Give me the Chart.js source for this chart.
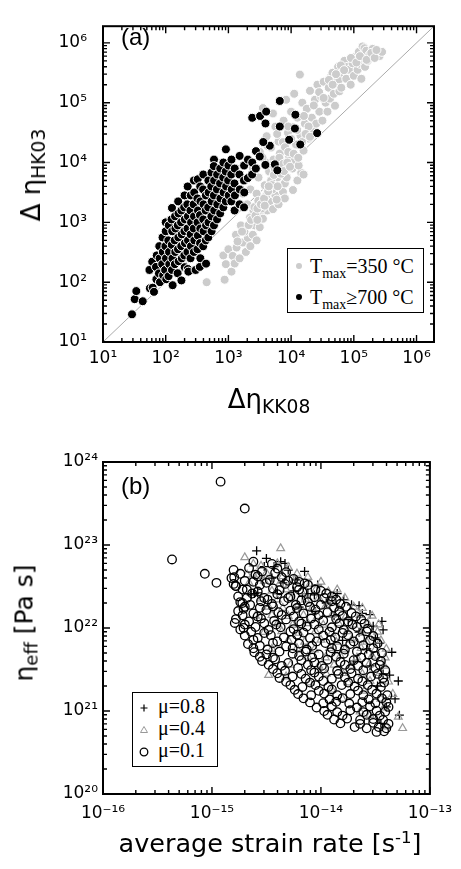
<!DOCTYPE html>
<html>
<head>
<meta charset="utf-8">
<script src="https://cdn.jsdelivr.net/npm/chart.js@4.4.1/dist/chart.umd.min.js"></script>
<style>
  body { margin: 0; background: #fff; }
  #wrap { position: relative; width: 461px; height: 869px; overflow: hidden; }
  canvas { position: absolute; left: 0; }
  .t { position: absolute; white-space: nowrap; line-height: 1; color: #000; font-family: 'DejaVu Sans', sans-serif; }
  .t sub { font-size: 0.72em; vertical-align: -0.27em; line-height: 0; }
  .t sup { font-size: 0.65em; vertical-align: 0.55em; line-height: 0; }
  .rot { transform: translate(-50%, -50%) rotate(-90deg); }
  .leg { position: absolute; box-sizing: border-box; border: 1px solid #000; background: #fff; }
  .lt { position: absolute; white-space: nowrap; line-height: 1; font-family: 'Liberation Serif', serif; font-size: 20px; }
  .lt sub { font-size: 14px; vertical-align: -5px; line-height: 0; }
</style>
</head>
<body>
<div id="wrap">
  <canvas id="chartA" width="461" height="435" style="top:0"></canvas>
  <canvas id="chartB" width="461" height="434" style="top:435px"></canvas>

  <div class="t" style="left:121px;top:25px;font-family:'Liberation Sans';font-size:24px">(a)</div>
  <div class="t" style="left:269px;top:386px;font-size:26px;transform:translateX(-50%)">Δη<sub>KK08</sub></div>
  <div class="t rot" style="left:31px;top:175px;font-size:26px">Δ η<sub>HK03</sub></div>

  <div class="leg" style="left:287px;top:248px;width:137px;height:65px"></div>
  <svg style="position:absolute;left:287px;top:248px" width="137" height="65">
    <circle cx="12" cy="18" r="3" fill="#cccccc"/>
    <circle cx="12" cy="49" r="3" fill="#000"/>
  </svg>
  <div class="lt" style="left:310px;top:256px">T<sub>max</sub>=350 °C</div>
  <div class="lt" style="left:310px;top:287px">T<sub>max</sub>≥700 °C</div>

  <div class="t" style="left:121px;top:474px;font-family:'Liberation Sans';font-size:24px">(b)</div>
  <div class="t" style="left:270px;top:831px;font-size:25.5px;transform:translateX(-50%)">average strain rate [s<sup>-1</sup>]</div>
  <div class="t rot" style="left:24px;top:623px;font-size:25px">η<sub>eff</sub> [Pa s]</div>

  <div class="leg" style="left:132px;top:692px;width:86px;height:75px"></div>
  <svg style="position:absolute;left:132px;top:692px" width="86" height="75">
    <path d="M8.5 16H15.5M12 12.5V19.5" stroke="#000" stroke-width="1.2" fill="none"/>
    <path d="M12 34.5L15.5 40.5L8.5 40.5Z" stroke="#999" stroke-width="1" fill="none"/>
    <circle cx="12" cy="60" r="3.8" stroke="#000" stroke-width="1.3" fill="none"/>
  </svg>
  <div class="lt" style="left:158px;top:696px">μ=0.8</div>
  <div class="lt" style="left:158px;top:718px">μ=0.4</div>
  <div class="lt" style="left:158px;top:740px">μ=0.1</div>
</div>

<script>
// ---- panel (a) data ----
const rangeA = [10, 1.9e6];
const oneToOne = [10, 1.9e6];
const tickValsA = [1e1, 1e2, 1e3, 1e4, 1e5, 1e6];
const tickLabelsA = ['10¹', '10²', '10³', '10⁴', '10⁵', '10⁶'];

// T_max >= 700 °C  [Δη_KK08, Δη_HK03]
const hotPts = [
  [29,29],[32,52],[34,71],[43,48],[55,160],[56,79],[62,81],[61,220],[65,69],
  [71,112],[72,280],[70,180],[79,400],[78,140],[80,250],[81,100],
  [89,560],[88,200],[90,320],[91,130],[100,710],[99,400],[101,250],[98,160],[102,112],[100,1000],
  [112,890],[110,500],[113,320],[114,200],[111,126],
  [126,1740],[124,1120],[127,710],[125,420],[128,250],[126,160],[129,89],
  [141,1260],[143,790],[139,500],[142,320],[140,200],
  [158,2240],[160,1410],[156,890],[159,560],[157,355],[161,224],[155,141],
  [178,1580],[176,1000],[180,630],[177,400],[181,250],[178,107],
  [200,2820],[197,1780],[202,1120],[199,710],[203,450],[198,280],[201,178],
  [224,3980],[221,2000],[226,1260],[223,790],[227,500],[222,320],[225,166],[230,150],
  [251,2820],[248,1580],[254,1000],[250,630],[253,400],[249,251],
  [282,5010],[285,3160],[279,2000],[283,1260],[280,790],[286,500],[281,320],[300,160],
  [324,5250],[320,2510],[327,1580],[322,1000],[326,600],[321,355],[350,180],
  [355,3980],[358,2240],[352,1320],[356,790],[353,450],[357,251],
  [398,6310],[395,3550],[401,2000],[397,1120],[402,710],[396,398],
  [437,2820],[434,1580],[440,890],[436,500],[440,204],
  [479,5010],[483,3160],[476,1780],[481,1000],[478,560],
  [537,6760],[533,3980],[541,2240],[535,1260],[539,710],
  [589,11200],[585,8710],[592,5010],[587,2820],[594,1580],[588,890],
  [661,6310],[656,3550],[665,2000],[659,1120],
  [741,7940],[736,4470],[746,2510],[739,1410],
  [832,10000],[826,5620],[838,3160],[829,1780],
  [912,16600],[906,7080],[918,3980],[909,2240],
  [1000,8910],[990,5010],[1010,2820],
  [1120,11200],[1110,6310],[1130,3550],[1115,2240],
  [1260,7940],[1250,4470],[1270,2820],[1255,1580],
  [1510,12900],[1500,6310],[1520,3550],[1505,2000],
  [1780,8910],[1770,5010],[1790,3160],[1775,1780],
  [2040,5500],[2050,11200],[2400,10000],[2390,6310],[2750,15500],[2740,7940],
  [3160,12600],[3550,21900],[3890,9120],[4570,19100],[5500,9330],[6030,7410],
  [2400,56000],[3200,60000],[4000,71000],[3900,45000],[6600,107000],[6600,40000],
  [11700,63000],[11500,37000],[9300,24000],[26000,31000],[14000,20000],[3600,22000]
];

// T_max = 350 °C
const coolPts = [
  [450,100],[870,110],[830,280],[910,200],[1000,355],[1120,150],[1170,275],[1260,205],[1320,620],[1350,380],
  [1510,250],[1580,890],[1700,460],[1900,320],[2040,550],[2240,400],[2450,620],[2630,890],[2820,500],[3160,830],
  [3310,1260],[3550,1150],[4170,1580],[4570,2240],[5130,1660],[5620,2820],[6310,2000],[7410,3240],[7940,2510],
  [10700,3470],[12600,5010],[14500,6760],[15800,6300],
  [1700,3020],[2450,1450],[2000,2000],[2240,3550],[2450,8130],[2510,1580],[2820,3020],[3020,5620],[3160,15100],
  [3310,2240],[3550,81300],[3800,4170],[3980,10000],[4070,27500],[4470,7080],[4790,17800],[5010,3550],[5130,66100],
  [5250,11200],[5620,39800],[5890,2400],[6030,5620],[6310,22400],[6610,14100],[7080,8910],[7410,21900],[7590,50100],
  [7940,4470],[8320,112000],[8510,5620],[8910,31600],[9330,12600],[10000,70800],[10500,7940],[10700,38900],
  [11200,10500],[11200,141000],[12000,20000],[12600,56200],[13200,8910],[13800,295000],[14100,28200],[15100,100000],
  [15800,15800],[16600,44700],[17800,79400],[19100,25100],[20000,158000],[21400,56200],[22400,35500],[24000,112000],
  [25100,44700],[26300,200000],[28200,70800],[30200,126000],
  [31600,50100],[33100,224000],[35500,100000],[38000,70800],[39800,178000],[41700,117000],[43700,282000],[45700,316000],
  [47900,141000],[50100,89100],[52500,224000],[56200,398000],[58900,155000],[58900,245000],[63100,178000],[66100,316000],
  [70800,501000],[75900,251000],[79400,398000],[85100,355000],[89100,200000],[95500,457000],[100000,282000],
  [105000,562000],[110000,603000],[115000,355000],[120000,708000],[126000,447000],[132000,251000],[138000,871000],
  [141000,562000],[148000,813000],[151000,398000],[158000,741000],[166000,501000],[178000,631000],[200000,794000],
  [257000,603000],[282000,708000],
  [3500,12000],[4200,19000],[6000,30000],[8000,18000],[9000,40000],[5000,9000],
  [2200,1200],[2600,1800],[3000,2300],[3400,1700],[4000,2800],[4800,5000],[5500,7500],[6500,12000],[7500,9500],
  [9000,15000],[10000,25000],[12500,35000],[16000,60000],[19000,40000],[23000,90000],[28000,150000],[33000,120000],
  [40000,240000],[46000,200000],[52000,300000],[62000,420000],[70000,350000],[90000,560000],[110000,470000],[125000,600000],
  [1800,700],[2100,900],[2300,1100],[2700,1300],[2900,1700],[3300,2000],[3700,2500],[4300,3300],[4900,4200],
  [5300,6200],[6100,4000],[6900,6500],[7700,7200],[8700,10000],[9600,8500],[11000,14000],[13000,12000],
  [15000,22000],[17000,30000],[20000,27000],[1400,480],[1650,700],[2900,1100],[3800,1900],[4400,4000],
  [160000,520000],[190000,680000],[215000,560000],[230000,760000]
];

// ---- panel (b) data ----
const rangeBx = [1e-16, 1e-13];
const rangeBy = [1e20, 1e24];
const tickValsBx = [1e-16, 1e-15, 1e-14, 1e-13];
const tickLabelsBx = ['10⁻¹⁶', '10⁻¹⁵', '10⁻¹⁴', '10⁻¹³'];
const tickValsBy = [1e20, 1e21, 1e22, 1e23, 1e24];
const tickLabelsBy = ['10²⁰', '10²¹', '10²²', '10²³', '10²⁴'];

// μ=0.8  [strain rate, η_eff]
const mu08 = [
  [2.57e-15,8.5e22],[3.16e-15,6.9e22],[3.02e-15,5.5e22],[3.72e-15,5.5e22],[4.68e-15,6.0e22],[5.01e-15,5.0e22],
  [7.08e-15,4.8e22],[2.45e-15,2.6e22],[5.89e-15,3.8e22],[9.33e-15,3.3e22],[1.41e-14,2.6e22],[1.62e-14,2.2e22],
  [1.91e-14,1.9e22],[2.24e-14,1.86e22],[2.40e-14,1.5e22],[2.82e-14,1.45e22],[3.63e-14,1.2e22],[3.02e-14,1.05e22],
  [3.72e-14,9.5e21],[3.16e-14,7.6e21],[3.47e-14,6.6e21],[4.47e-14,5.1e21],[4.27e-14,2.7e21],[5.13e-14,2.3e21],
  [4.79e-14,1.4e21],[5.25e-14,8.9e20],[3.72e-14,2.8e21],[7.59e-15,2.6e22],[8.71e-15,2.5e22],[6.76e-15,2.4e22],
  [3.98e-15,2.6e22],[2.29e-15,2.5e22],[2.63e-15,2.65e22],[4.27e-15,6.3e22],
  [4.47e-15,3.5e22],[3.55e-15,4.0e22],[5.62e-15,2.8e22],[1.12e-14,2.0e22],[1.32e-14,1.4e22],[1.78e-14,1.26e22],
  [2.24e-14,8.9e21],[2.63e-14,5.6e21],[2.82e-14,3.5e21],[3.31e-14,2.0e21],[3.98e-14,1.12e21],[8.91e-15,1.58e22],
  [6.31e-15,1.78e22],[1.58e-14,7.1e21],[2.0e-14,4.0e21],[3.55e-14,7.1e20]
];

// μ=0.4
const mu04 = [
  [4.27e-15,9.1e22],[2.0e-15,7.1e22],[2.4e-15,5.9e22],[2.1e-15,4.4e22],[2.6e-15,4.2e22],
  [2.82e-15,5.6e22],[3.98e-15,6.0e22],[5.01e-15,5.4e22],
  [2.4e-15,4.4e22],[3.16e-15,4.6e22],[4.47e-15,4.2e22],[6.03e-15,4.5e22],[7.59e-15,4.1e22],
  [2.19e-15,3.5e22],[3.02e-15,3.7e22],[4.17e-15,3.4e22],[5.62e-15,3.6e22],[7.94e-15,3.4e22],[1.0e-14,3.6e22],
  [3.55e-15,2.8e22],[4.79e-15,2.9e22],[6.61e-15,2.75e22],[8.91e-15,2.85e22],[1.17e-14,2.75e22],[1.41e-14,2.9e22],
  [2.82e-15,2.25e22],[3.98e-15,2.2e22],[5.37e-15,2.3e22],[7.24e-15,2.2e22],[9.55e-15,2.3e22],[1.26e-14,2.2e22],[1.66e-14,2.3e22],
  [3.31e-15,1.8e22],[4.47e-15,1.74e22],[6.03e-15,1.8e22],[8.32e-15,1.75e22],[1.1e-14,1.82e22],[1.45e-14,1.74e22],[2.0e-14,1.8e22],[2.4e-14,1.74e22],
  [2.51e-15,1.4e22],[3.55e-15,1.43e22],[5.01e-15,1.39e22],[6.92e-15,1.43e22],[9.33e-15,1.39e22],[1.26e-14,1.43e22],[1.7e-14,1.39e22],[2.29e-14,1.43e22],[2.95e-14,1.4e22],
  [3.98e-15,1.12e22],[5.5e-15,1.09e22],[7.59e-15,1.14e22],[1.05e-14,1.09e22],[1.45e-14,1.14e22],[2.0e-14,1.09e22],[2.69e-14,1.14e22],[3.39e-14,1.1e22],
  [3.02e-15,8.9e21],[4.37e-15,9.1e21],[6.31e-15,8.7e21],[8.91e-15,9.1e21],[1.26e-14,8.7e21],[1.74e-14,9.1e21],[2.4e-14,8.7e21],[3.31e-14,9.0e21],
  [5.01e-15,7.1e21],[7.08e-15,6.8e21],[1.0e-14,7.2e21],[1.38e-14,6.8e21],[1.91e-14,7.2e21],[2.63e-14,6.8e21],[3.55e-14,7.1e21],
  [3.55e-15,5.6e21],[6.03e-15,5.7e21],[8.71e-15,5.5e21],[1.2e-14,5.7e21],[1.66e-14,5.5e21],[2.34e-14,5.7e21],[3.16e-14,5.5e21],[3.98e-14,5.6e21],
  [7.59e-15,4.5e21],[1.1e-14,4.4e21],[1.51e-14,4.6e21],[2.14e-14,4.4e21],[2.95e-14,4.6e21],[3.89e-14,4.4e21],
  [5.25e-15,3.6e21],[9.55e-15,3.5e21],[1.32e-14,3.6e21],[1.91e-14,3.5e21],[2.75e-14,3.6e21],[3.8e-14,3.5e21],
  [3.31e-15,2.7e21],[4.79e-15,2.6e21],[1.12e-14,2.8e21],[1.58e-14,2.85e21],[2.4e-14,2.8e21],[3.47e-14,2.85e21],
  [7.94e-15,2.2e21],[1.78e-14,2.2e21],[2.82e-14,2.3e21],[4.17e-14,2.25e21],
  [1.26e-14,1.8e21],[2.51e-14,1.75e21],[4.57e-14,1.6e21],
  [1.58e-14,1.4e21],[3.55e-14,1.4e21],
  [2.29e-14,9.8e20],[3.8e-14,1.1e21],
  [2.82e-14,8.9e20],[5.13e-14,8.5e20],
  [3.98e-14,6.5e20],[5.62e-14,6.2e20]
];

// μ=0.1
const mu01 = [
  [4.3e-16,6.7e22],[8.6e-16,4.5e22],[1.1e-15,3.5e22],[1.2e-15,5.8e23],[2.0e-15,2.75e23],[1.6e-15,4.1e22],
  [1.65e-15,3.2e22],[1.62e-15,1.15e22],[1.95e-15,1.0e22],[1.9e-15,2.0e22],[1.95e-15,1.7e22],
  [2.4e-15,6.3e22],[3.55e-15,5.9e22],
  [1.58e-15,5.0e22],[2.19e-15,5.3e22],[2.88e-15,4.8e22],[3.98e-15,5.2e22],[4.79e-15,4.7e22],
  [1.51e-15,4.0e22],[2.0e-15,3.7e22],[2.63e-15,4.2e22],[3.39e-15,3.8e22],[4.37e-15,4.1e22],[5.62e-15,3.9e22],[6.31e-15,3.6e22],
  [1.66e-15,3.2e22],[2.09e-15,2.9e22],[2.75e-15,3.3e22],[3.63e-15,3.0e22],[4.68e-15,3.4e22],[6.03e-15,3.1e22],[7.59e-15,3.3e22],[8.91e-15,2.9e22],
  [1.74e-15,2.4e22],[2.34e-15,2.6e22],[3.02e-15,2.3e22],[3.98e-15,2.55e22],[5.25e-15,2.4e22],[6.76e-15,2.7e22],[8.71e-15,2.35e22],[1.12e-14,2.6e22],[1.26e-14,2.4e22],
  [1.82e-15,2.05e22],[2.24e-15,1.9e22],[2.82e-15,2.1e22],[3.55e-15,1.95e22],[4.57e-15,2.1e22],[5.89e-15,1.9e22],[7.59e-15,2.05e22],[1.0e-14,1.9e22],[1.26e-14,2.1e22],[1.51e-14,1.95e22],
  [1.74e-15,1.6e22],[2.4e-15,1.5e22],[3.16e-15,1.65e22],[4.07e-15,1.55e22],[5.25e-15,1.62e22],[6.92e-15,1.5e22],[8.91e-15,1.66e22],[1.15e-14,1.55e22],[1.48e-14,1.6e22],[1.91e-14,1.52e22],
  [1.66e-15,1.28e22],[2.19e-15,1.2e22],[2.82e-15,1.3e22],[3.72e-15,1.22e22],[4.79e-15,1.27e22],[6.31e-15,1.2e22],[8.13e-15,1.3e22],[1.05e-14,1.23e22],[1.38e-14,1.29e22],[1.78e-14,1.2e22],[2.34e-14,1.27e22],
  [1.82e-15,9.6e21],[2.51e-15,1.03e22],[3.31e-15,9.5e21],[4.27e-15,1.02e22],[5.62e-15,9.7e21],[7.41e-15,1.04e22],[9.55e-15,9.6e21],[1.26e-14,1.02e22],[1.62e-14,9.5e21],[2.14e-14,1.03e22],[2.69e-14,9.8e21],
  [2.0e-15,8.1e21],[2.63e-15,7.6e21],[3.47e-15,8.2e21],[4.57e-15,7.7e21],[6.03e-15,8.3e21],[7.94e-15,7.6e21],[1.05e-14,8.1e21],[1.35e-14,7.7e21],[1.78e-14,8.2e21],[2.29e-14,7.6e21],[3.02e-14,8.0e21],
  [2.14e-15,6.4e21],[2.75e-15,6.1e21],[3.63e-15,6.6e21],[4.79e-15,6.0e21],[6.31e-15,6.5e21],[8.32e-15,6.1e21],[1.1e-14,6.6e21],[1.41e-14,6.0e21],[1.86e-14,6.4e21],[2.45e-14,6.2e21],[3.31e-14,6.5e21],
  [2.45e-15,5.1e21],[3.16e-15,4.8e21],[4.17e-15,5.2e21],[5.5e-15,4.9e21],[7.24e-15,5.2e21],[9.55e-15,4.8e21],[1.23e-14,5.1e21],[1.62e-14,4.9e21],[2.14e-14,5.2e21],[2.75e-14,4.8e21],[3.63e-14,5.0e21],
  [2.88e-15,4.0e21],[3.8e-15,4.2e21],[5.01e-15,3.8e21],[6.61e-15,4.1e21],[8.71e-15,3.85e21],[1.15e-14,4.15e21],[1.51e-14,3.9e21],[2.0e-14,4.1e21],[2.63e-14,3.8e21],[3.55e-14,4.0e21],
  [3.63e-15,3.2e21],[4.68e-15,3.05e21],[6.17e-15,3.3e21],[8.13e-15,3.1e21],[1.07e-14,3.25e21],[1.41e-14,3.05e21],[1.86e-14,3.2e21],[2.45e-14,3.1e21],[3.16e-14,3.3e21],[3.89e-14,3.1e21],
  [4.17e-15,2.5e21],[5.5e-15,2.6e21],[7.24e-15,2.45e21],[9.55e-15,2.6e21],[1.26e-14,2.45e21],[1.66e-14,2.55e21],[2.19e-14,2.45e21],[2.88e-14,2.6e21],[3.72e-14,2.5e21],
  [5.25e-15,2.05e21],[6.76e-15,1.95e21],[8.91e-15,2.05e21],[1.17e-14,1.95e21],[1.55e-14,2.05e21],[2.04e-14,1.97e21],[2.69e-14,2.05e21],[3.55e-14,1.95e21],
  [6.17e-15,1.6e21],[8.13e-15,1.55e21],[1.07e-14,1.62e21],[1.41e-14,1.55e21],[1.86e-14,1.6e21],[2.45e-14,1.55e21],[3.24e-14,1.62e21],[4.07e-14,1.55e21],
  [7.94e-15,1.27e21],[1.05e-14,1.24e21],[1.38e-14,1.29e21],[1.82e-14,1.23e21],[2.4e-14,1.28e21],[3.16e-14,1.24e21],[3.98e-14,1.28e21],
  [1.07e-14,1.0e21],[1.41e-14,9.7e20],[1.86e-14,1.02e21],[2.45e-14,9.7e20],[3.24e-14,1.01e21],[3.89e-14,9.8e20],
  [1.32e-14,7.9e20],[1.74e-14,8.1e20],[2.29e-14,7.8e20],[3.02e-14,8.0e20],[3.72e-14,7.8e20],
  [2.04e-14,6.4e20],[2.63e-14,6.2e20],[3.39e-14,6.4e20],[3.98e-14,6.2e20],
  [3.24e-14,5.6e20],[3.8e-14,5.7e20],
  // in-between points of the dense cloud
  [1.82e-15,4.5e22],[2.51e-15,4.4e22],[3.8e-15,4.6e22],
  [1.58e-15,3.4e22],[2.4e-15,3.6e22],[3.16e-15,3.5e22],[5.01e-15,3.7e22],[7.08e-15,3.45e22],
  [1.91e-15,2.9e22],[2.63e-15,2.75e22],[4.17e-15,2.85e22],[6.31e-15,2.9e22],[1.0e-14,2.8e22],
  [2.09e-15,2.3e22],[3.24e-15,2.2e22],[5.01e-15,2.3e22],[6.61e-15,2.15e22],[1.07e-14,2.3e22],[1.38e-14,2.2e22],
  [2.0e-15,1.8e22],[2.75e-15,1.75e22],[3.63e-15,1.82e22],[6.03e-15,1.74e22],[7.94e-15,1.8e22],[1.32e-14,1.76e22],[1.7e-14,1.8e22],
  [1.91e-15,1.42e22],[2.63e-15,1.38e22],[4.37e-15,1.43e22],[5.62e-15,1.38e22],[9.55e-15,1.43e22],[1.58e-14,1.4e22],[2.09e-14,1.38e22],
  [2.0e-15,1.1e22],[3.02e-15,1.14e22],[3.89e-15,1.1e22],[6.61e-15,1.13e22],[8.71e-15,1.1e22],[1.48e-14,1.14e22],[1.95e-14,1.1e22],[2.51e-14,1.13e22],
  [2.29e-15,9.0e21],[3.02e-15,8.7e21],[5.25e-15,9.1e21],[6.92e-15,8.8e21],[1.2e-14,9.0e21],[1.58e-14,8.7e21],[2.63e-14,9.1e21],
  [2.4e-15,7.2e21],[3.98e-15,6.9e21],[5.37e-15,7.2e21],[9.12e-15,6.9e21],[1.23e-14,7.2e21],[2.0e-14,6.9e21],[2.82e-14,7.1e21],
  [2.4e-15,5.7e21],[3.24e-15,5.5e21],[5.5e-15,5.7e21],[7.41e-15,5.5e21],[1.26e-14,5.7e21],[1.66e-14,5.5e21],[3.02e-14,5.7e21],
  [2.75e-15,4.5e21],[3.63e-15,4.4e21],[6.31e-15,4.6e21],[8.32e-15,4.4e21],[1.38e-14,4.5e21],[2.34e-14,4.4e21],[3.16e-14,4.6e21],
  [3.31e-15,3.6e21],[4.37e-15,3.5e21],[7.59e-15,3.6e21],[1.02e-14,3.5e21],[1.66e-14,3.6e21],[2.19e-14,3.5e21],[3.47e-14,3.6e21],
  [3.98e-15,2.85e21],[6.61e-15,2.8e21],[8.71e-15,2.9e21],[1.45e-14,2.8e21],[1.91e-14,2.85e21],[3.31e-14,2.8e21],
  [4.79e-15,2.25e21],[7.94e-15,2.2e21],[1.05e-14,2.3e21],[1.78e-14,2.2e21],[2.4e-14,2.28e21],[3.8e-14,2.2e21],
  [5.75e-15,1.8e21],[9.55e-15,1.75e21],[1.26e-14,1.82e21],[2.19e-14,1.76e21],[2.95e-14,1.8e21],
  [6.92e-15,1.42e21],[1.2e-14,1.38e21],[1.58e-14,1.43e21],[2.75e-14,1.38e21],[3.63e-14,1.42e21],
  [9.12e-15,1.1e21],[1.26e-14,1.14e21],[2.14e-14,1.1e21],[2.82e-14,1.14e21],[4.17e-14,1.12e21],
  [1.15e-14,9.0e20],[1.58e-14,8.8e20],[2.63e-14,9.0e20],[3.47e-14,8.8e20],
  [1.51e-14,7.1e20],[2.29e-14,7.0e20],[3.02e-14,7.2e20],[4.17e-14,7.0e20]
];

const toXY = pts => pts.map(([x, y]) => ({ x, y }));

// log axis with labels only at decades
function logAxis(range, vals, labels, fit, pad) {
  return {
    type: 'logarithmic',
    min: range[0],
    max: range[1],
    grid: { display: false, drawTicks: false },
    border: { display: false },
    afterBuildTicks: s => { s.ticks = vals.map(v => ({ value: v })); },
    afterFit: fit,
    ticks: {
      autoSkip: false,
      maxRotation: 0,
      padding: pad,
      color: '#000',
      font: { family: 'DejaVu Sans', size: 17 },
      callback: (v, i) => labels[i]
    }
  };
}

// frame with inward ticks on all four sides
const frameTicks = {
  id: 'frameTicks',
  afterDraw(chart) {
    const { ctx, chartArea: a } = chart;
    const xs = chart.scales.x, ys = chart.scales.y;
    ctx.save();
    ctx.strokeStyle = '#000';
    ctx.lineWidth = 1.4;
    const marks = (scale, horiz) => {
      const lo = Math.floor(Math.log10(scale.min)), hi = Math.ceil(Math.log10(scale.max));
      for (let e = lo; e <= hi; e++) {
        for (let m = 1; m <= 9; m++) {
          const v = m * Math.pow(10, e);
          if (v < scale.min * 0.999 || v > scale.max * 1.001) continue;
          const len = m === 1 ? 7 : 4;
          const p = scale.getPixelForValue(v);
          ctx.beginPath();
          if (horiz) {
            ctx.moveTo(p, a.bottom); ctx.lineTo(p, a.bottom - len);
            ctx.moveTo(p, a.top); ctx.lineTo(p, a.top + len);
          } else {
            ctx.moveTo(a.left, p); ctx.lineTo(a.left + len, p);
            ctx.moveTo(a.right, p); ctx.lineTo(a.right - len, p);
          }
          ctx.stroke();
        }
      }
    };
    marks(xs, true);
    marks(ys, false);
    ctx.lineWidth = 2;
    ctx.strokeRect(a.left, a.top, a.right - a.left, a.bottom - a.top);
    ctx.restore();
  }
};

// Panel (a)
new Chart(document.getElementById('chartA'), {
  type: 'scatter',
  data: {
    datasets: [
      { type: 'line', data: oneToOne.map(v => ({ x: v, y: v })), borderColor: '#aaaaaa', borderWidth: 1, pointRadius: 0, order: 3 },
      { data: toXY(coolPts), backgroundColor: '#cccccc', borderColor: '#ffffff', borderWidth: 1, pointRadius: 4.5, order: 2 },
      { data: toXY(hotPts), backgroundColor: '#000000', borderColor: '#ffffff', borderWidth: 1, pointRadius: 4.5, order: 1 }
    ]
  },
  options: {
    responsive: false,
    animation: false,
    devicePixelRatio: 1,
    layout: { padding: { top: 10, right: 27, left: 0, bottom: 0 } },
    plugins: { legend: { display: false }, tooltip: { enabled: false } },
    scales: {
      x: logAxis(rangeA, tickValsA, tickLabelsA, s => { s.height = 93; }, 6),
      y: logAxis(rangeA, tickValsA, tickLabelsA, s => { s.width = 103; }, 16)
    }
  },
  plugins: [frameTicks]
});

// Panel (b)
new Chart(document.getElementById('chartB'), {
  type: 'scatter',
  data: {
    datasets: [
      { data: toXY(mu08), pointStyle: 'cross', borderColor: '#000000', borderWidth: 1.3, pointRadius: 4.5, order: 3 },
      { data: toXY(mu04), pointStyle: 'triangle', backgroundColor: 'rgba(0,0,0,0)', borderColor: '#999999', borderWidth: 1.2, pointRadius: 4.5, order: 2 },
      { data: toXY(mu01), pointStyle: 'circle', backgroundColor: 'rgba(0,0,0,0)', borderColor: '#000000', borderWidth: 1.3, pointRadius: 4.3, order: 1 }
    ]
  },
  options: {
    responsive: false,
    animation: false,
    devicePixelRatio: 1,
    layout: { padding: { top: 27, right: 27, left: 0, bottom: 0 } },
    plugins: { legend: { display: false }, tooltip: { enabled: false } },
    scales: {
      x: logAxis(rangeBx, tickValsBx, tickLabelsBx, s => { s.height = 75; }, 9),
      y: logAxis(rangeBy, tickValsBy, tickLabelsBy, s => { s.width = 103; }, 5)
    }
  },
  plugins: [frameTicks]
});
</script>
</body>
</html>
